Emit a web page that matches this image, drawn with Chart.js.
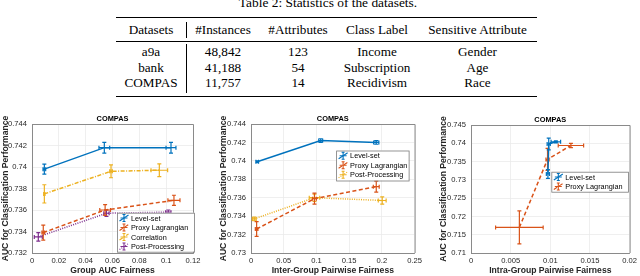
<!DOCTYPE html>
<html lang="en">
<head>
<meta charset="UTF-8">
<title>Statistics of the datasets and COMPAS fairness charts</title>
<script src="https://cdn.jsdelivr.net/npm/chart.js"></script>
<style>
    body { margin: 0; width: 640px; height: 276px; background: #fff; position: relative; overflow: hidden; }
    .tcell { position: absolute; text-align: center; font: 13.2px 'Liberation Serif', serif; color: #000; white-space: nowrap; line-height: 16px; }
    .rule { position: absolute; background: #000; }
    canvas { position: absolute; top: 100px; }
</style>
</head>
<body>
<div id="table"></div>
<canvas id="groupChart" width="207" height="176" style="left:0px"></canvas>
<canvas id="interChart" width="212" height="176" style="left:213px"></canvas>
<canvas id="intraChart" width="215" height="176" style="left:425px"></canvas>
<script>
// table
const tableCaption = 'Table 2: Statistics of the datasets.';
const tableHead = ['Datasets', '#Instances', '#Attributes', 'Class Label', 'Sensitive Attribute'];
const tableRows = [
    ['a9a', '48,842', '123', 'Income', 'Gender'],
    ['bank', '41,188', '54', 'Subscription', 'Age'],
    ['COMPAS', '11,757', '14', 'Recidivism', 'Race']
];

// chart 1: group AUC fairness
const groupXTicks = [0, 0.02, 0.04, 0.06, 0.08, 0.1, 0.12];
const groupYTicks = [0.732, 0.734, 0.736, 0.738, 0.74, 0.742, 0.744];
const groupLevelX = [0.0092, 0.0539, 0.1036];
const groupLevelY = [0.7398, 0.7418, 0.7418];
const groupLevelXErr = [0.001, 0.004, 0.0037];
const groupLevelYErr = [0.00047, 0.0005, 0.0005];
const groupProxyX = [0.0084, 0.0545, 0.1058];
const groupProxyY = [0.7339, 0.7360, 0.7369];
const groupProxyXErr = [0.001, 0.004, 0.0045];
const groupProxyYErr = [0.0007, 0.0005, 0.00047];
const groupCorrX = [0.0092, 0.0589, 0.0949];
const groupCorrY = [0.7375, 0.7396, 0.7397];
const groupCorrXErr = [0.0005, 0.001, 0.0062];
const groupCorrYErr = [0.00085, 0.0006, 0.0006];
const groupPostX = [0.0047, 0.0555, 0.1016];
const groupPostY = [0.7335, 0.7357, 0.7358];
const groupPostXErr = [0.003, 0.002, 0.002];
const groupPostYErr = [0.0004, 0.0003, 0.0002];

// chart 2: inter-group pairwise fairness
const interXTicks = [0, 0.05, 0.1, 0.15, 0.2, 0.25];
const interYTicks = [0.73, 0.732, 0.734, 0.736, 0.738, 0.74, 0.742, 0.744];
const interLevelX = [0.0095, 0.1065, 0.1914];
const interLevelY = [0.7399, 0.7422, 0.7420];
const interLevelXErr = [0.002, 0.003, 0.004];
const interLevelYErr = [0.0001, 0.0002, 0.0002];
const interProxyX = [0.0086, 0.097, 0.1914];
const interProxyY = [0.7326, 0.7359, 0.7372];
const interProxyXErr = [0.002, 0.003, 0.0045];
const interProxyYErr = [0.0008, 0.0006, 0.0006];
const interPostX = [0.005, 0.097, 0.2005];
const interPostY = [0.7337, 0.7360, 0.7357];
const interPostXErr = [0.003, 0.008, 0.006];
const interPostYErr = [0.0002, 0.0004, 0.0004];

// chart 3: intra-group pairwise fairness
const intraXTicks = [0, 0.005, 0.01, 0.015, 0.02];
const intraYTicks = [0.71, 0.715, 0.72, 0.725, 0.73, 0.735, 0.74, 0.745];
const intraLevelX = [0.0097, 0.0098, 0.0107];
const intraLevelY = [0.7316, 0.7398, 0.7404];
const intraLevelXErr = [0.0002, 0.0002, 0.0006];
const intraLevelYErr = [0.0012, 0.0016, 0.0003];
const intraProxyX = [0.0061, 0.00965, 0.0126];
const intraProxyY = [0.7170, 0.7356, 0.7394];
const intraProxyXErr = [0.003, 0.0002, 0.0016];
const intraProxyYErr = [0.0045, 0.003, 0.0006];

const SANS = "'Liberation Sans', Arial, sans-serif";
const TXT = '#262626';

function buildTable() {
    const root = document.getElementById('table');
    const colLeft = [116, 186, 260, 336, 418];
    const colWidth = [70, 74, 76, 82, 119];
    const rowTop = [22, 44, 59.6, 75.2];
    let html = `<div class="tcell" style="left:0;width:656px;top:-5px;font-size:13.4px">${tableCaption}</div>`;
    html += '<div class="rule" style="left:116px;top:17px;width:421px;height:1.3px"></div>';
    html += '<div class="rule" style="left:116px;top:41px;width:421px;height:0.8px"></div>';
    html += '<div class="rule" style="left:116px;top:96px;width:421px;height:1.3px"></div>';
    html += '<div class="rule" style="left:186px;top:22px;width:0.8px;height:16px"></div>';
    html += '<div class="rule" style="left:186px;top:44px;width:0.8px;height:49px"></div>';
    [tableHead].concat(tableRows).forEach((row, r) => {
        row.forEach((cell, c) => {
            html += `<div class="tcell" style="left:${colLeft[c]}px;width:${colWidth[c]}px;top:${rowTop[r]}px">${cell}</div>`;
        });
    });
    root.innerHTML = html;
}

const fmt = v => String(Number(v.toFixed(4)));

function series(label, xs, ys, xErr, yErr, color, dash) {
    return {
        label: label,
        data: xs.map((x, i) => ({ x: x, y: ys[i] })),
        xErr: xErr,
        yErr: yErr,
        showLine: true,
        borderColor: color,
        backgroundColor: color,
        borderWidth: 1.5,
        borderDash: dash,
        pointRadius: 0,
        fill: false
    };
}

// draws each series' error bars right after the series itself
const errorBars = {
    id: 'errorBars',
    afterDatasetDraw(chart, args) {
        const ds = chart.data.datasets[args.index];
        const { ctx, scales: { x, y } } = chart;
        const cap = 2;
        ctx.save();
        ctx.strokeStyle = ds.borderColor;
        ctx.lineWidth = 1.2;
        ctx.setLineDash([]);
        ctx.beginPath();
        ds.data.forEach((p, i) => {
            const px = x.getPixelForValue(p.x), py = y.getPixelForValue(p.y);
            const x0 = x.getPixelForValue(p.x - ds.xErr[i]), x1 = x.getPixelForValue(p.x + ds.xErr[i]);
            const y0 = y.getPixelForValue(p.y - ds.yErr[i]), y1 = y.getPixelForValue(p.y + ds.yErr[i]);
            ctx.moveTo(x0, py); ctx.lineTo(x1, py);
            ctx.moveTo(x0, py - cap); ctx.lineTo(x0, py + cap);
            ctx.moveTo(x1, py - cap); ctx.lineTo(x1, py + cap);
            ctx.moveTo(px, y0); ctx.lineTo(px, y1);
            ctx.moveTo(px - cap, y0); ctx.lineTo(px + cap, y0);
            ctx.moveTo(px - cap, y1); ctx.lineTo(px + cap, y1);
        });
        ctx.stroke();
        ctx.restore();
    }
};

// box, title and legend drawn the MATLAB way
const frame = {
    id: 'frame',
    afterDraw(chart, args, opts) {
        const { ctx, chartArea: a } = chart;
        ctx.save();
        ctx.strokeStyle = '#8a8a8a';
        ctx.lineWidth = 1;
        ctx.beginPath();
        ctx.moveTo(a.left, a.top + 0.5); ctx.lineTo(a.right + 0.5, a.top + 0.5); ctx.lineTo(a.right + 0.5, a.bottom);
        ctx.stroke();

        ctx.fillStyle = '#000';
        ctx.font = `bold 7.4px ${SANS}`;
        ctx.textAlign = 'center';
        ctx.textBaseline = 'alphabetic';
        ctx.fillText('COMPAS', (a.left + a.right) / 2, a.top - 3);

        const lg = opts.legend;
        const left = a.right - lg.right - lg.width;
        const top = lg.bottom != null ? a.bottom - lg.bottom - lg.height : a.top + lg.top;
        ctx.fillStyle = '#fff';
        ctx.fillRect(left, top, lg.width, lg.height);
        ctx.strokeStyle = '#7a7a7a';
        ctx.lineWidth = 0.8;
        ctx.strokeRect(left + 0.5, top + 0.5, lg.width, lg.height);
        ctx.font = `7.3px ${SANS}`;
        ctx.textAlign = 'left';
        ctx.textBaseline = 'middle';
        chart.data.datasets.forEach((ds, i) => {
            const cy = top + 5.3 + i * 9.5;
            const gx = left + 7;
            ctx.strokeStyle = ds.borderColor;
            ctx.lineWidth = 1.1;
            ctx.setLineDash(ds.borderDash || []);
            ctx.beginPath();
            ctx.moveTo(gx - 4.5, cy + 3); ctx.lineTo(gx + 4.5, cy - 3);
            ctx.stroke();
            ctx.setLineDash([]);
            ctx.beginPath();
            ctx.moveTo(gx, cy - 3.5); ctx.lineTo(gx, cy + 3.5);
            ctx.moveTo(gx - 1.5, cy - 3.5); ctx.lineTo(gx + 1.5, cy - 3.5);
            ctx.moveTo(gx - 1.5, cy + 3.5); ctx.lineTo(gx + 1.5, cy + 3.5);
            ctx.moveTo(gx - 3.5, cy); ctx.lineTo(gx + 3.5, cy);
            ctx.stroke();
            ctx.fillStyle = '#000';
            ctx.fillText(ds.label, left + 14, cy + 0.5);
        });
        ctx.restore();
    }
};

function makeChart(id, cfg) {
    const tickFont = { family: SANS, size: 7.6 };
    const titleFont = { family: SANS, size: 8.6, weight: 'bold' };
    new Chart(document.getElementById(id), {
        type: 'scatter',
        data: { datasets: cfg.datasets },
        plugins: [errorBars, frame],
        options: {
            responsive: false,
            animation: false,
            events: [],
            layout: { padding: cfg.padding },
            plugins: {
                legend: { display: false },
                tooltip: { enabled: false },
                frame: { legend: cfg.legend }
            },
            scales: {
                x: {
                    type: 'linear',
                    position: 'bottom',
                    min: cfg.xTicks[0],
                    max: cfg.xTicks[cfg.xTicks.length - 1],
                    afterBuildTicks: s => { s.ticks = cfg.xTicks.map(v => ({ value: v })); },
                    afterFit: s => { s.height = 23; },
                    grid: { color: '#ebebeb', lineWidth: 0.8, drawTicks: false },
                    border: { color: '#8a8a8a', width: 1 },
                    ticks: { font: tickFont, color: TXT, padding: 3, maxRotation: 0, autoSkip: false, callback: fmt },
                    title: { display: true, text: cfg.xTitle, font: titleFont, color: TXT, padding: { top: 1, bottom: 0 } }
                },
                y: {
                    type: 'linear',
                    position: 'left',
                    min: cfg.yTicks[0],
                    max: cfg.yTicks[cfg.yTicks.length - 1],
                    afterBuildTicks: s => { s.ticks = cfg.yTicks.map(v => ({ value: v })); },
                    afterFit: s => { s.width = cfg.yWidth; },
                    grid: { color: '#ebebeb', lineWidth: 0.8, drawTicks: false },
                    border: { color: '#8a8a8a', width: 1 },
                    ticks: { font: tickFont, color: TXT, padding: 5, autoSkip: false, callback: fmt },
                    title: { display: true, text: 'AUC for Classification Performance', font: titleFont, color: TXT, padding: { top: 0, bottom: 0 } }
                }
            }
        }
    });
}

const BLUE = '#0072BD', ORANGE = '#D95319', YELLOW = '#EDB120', PURPLE = '#7E2F8E';
const SOLID = [], DASHED = [4, 2.5], DASHDOT = [4, 1.5, 1, 1.5], DOTTED = [1, 1.3];

function init() {
    buildTable();
    makeChart('groupChart', {
        xTicks: groupXTicks, yTicks: groupYTicks, xTitle: 'Group AUC Fairness',
        padding: { left: 0, top: 24, right: 14, bottom: 0 }, yWidth: 32,
        legend: { right: -1, bottom: 1.3, width: 77, height: 39 },
        datasets: [
            series('Level-set', groupLevelX, groupLevelY, groupLevelXErr, groupLevelYErr, BLUE, SOLID),
            series('Proxy Lagrangian', groupProxyX, groupProxyY, groupProxyXErr, groupProxyYErr, ORANGE, DASHED),
            series('Correlation', groupCorrX, groupCorrY, groupCorrXErr, groupCorrYErr, YELLOW, DASHDOT),
            series('Post-Processing', groupPostX, groupPostY, groupPostXErr, groupPostYErr, PURPLE, DOTTED)
        ]
    });
    makeChart('interChart', {
        xTicks: interXTicks, yTicks: interYTicks, xTitle: 'Inter-Group Pairwise Fairness',
        padding: { left: 5, top: 24, right: 9, bottom: 0 }, yWidth: 33,
        legend: { right: 6, top: 26.5, width: 72.5, height: 30 },
        datasets: [
            series('Level-set', interLevelX, interLevelY, interLevelXErr, interLevelYErr, BLUE, SOLID),
            series('Proxy Lagrangian', interProxyX, interProxyY, interProxyXErr, interProxyYErr, ORANGE, DASHED),
            series('Post-Processing', interPostX, interPostY, interPostXErr, interPostYErr, YELLOW, DOTTED)
        ]
    });
    makeChart('intraChart', {
        xTicks: intraXTicks, yTicks: intraYTicks, xTitle: 'Intra-Group Pairwise Fairness',
        padding: { left: 13, top: 25, right: 5, bottom: 0 }, yWidth: 33,
        legend: { right: 1.7, top: 46.7, width: 76.6, height: 20 },
        datasets: [
            series('Level-set', intraLevelX, intraLevelY, intraLevelXErr, intraLevelYErr, BLUE, SOLID),
            series('Proxy Lagrangian', intraProxyX, intraProxyY, intraProxyXErr, intraProxyYErr, ORANGE, DASHED)
        ]
    });
}

window.onload = init;
</script>
</body>
</html>
